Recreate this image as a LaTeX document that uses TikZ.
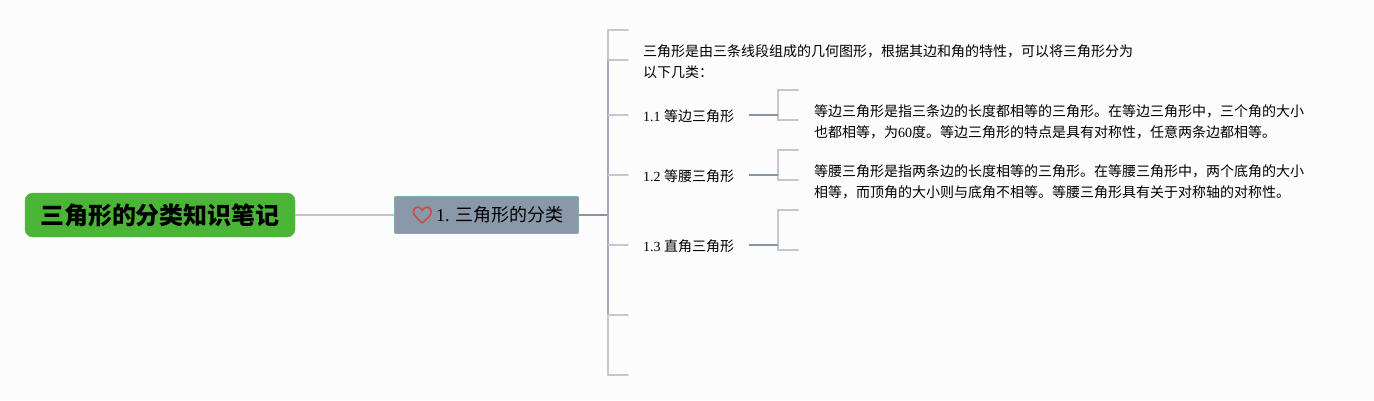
\documentclass[tikz,border=0pt]{standalone}
\usepackage{fontspec}
\usepackage{xcolor}
\setmainfont{Liberation Serif}
\newfontfamily\cjk{Noto Sans CJK SC}
\usetikzlibrary{positioning}
\definecolor{pagebg}{HTML}{FCFCFC}
\definecolor{titlegreen}{HTML}{4BB538}
\definecolor{topicfill}{HTML}{8A99A9}
\definecolor{topicedge}{HTML}{7FB0A4}
\definecolor{linkpale}{HTML}{C0C1D4}
\definecolor{linkdark}{HTML}{8794A8}
\definecolor{linkmid}{HTML}{A3A9BB}
\definecolor{linkgrey}{HTML}{C6C7CD}
\definecolor{heartred}{HTML}{CC4A48}

\begin{document}
\begin{tikzpicture}[
  x=1pt, y=-1pt,
  titlebox/.style={fill=titlegreen, draw=titlegreen, rounded corners=8pt, minimum width=270pt, minimum height=44pt, inner sep=0pt, font=\fontsize{24}{28}\cjk\bfseries},
  topicbox/.style={fill=topicfill, draw=topicedge, line width=0.8pt, rounded corners=1pt, minimum width=184pt, minimum height=37pt, inner sep=0pt, font=\fontsize{18}{22}\selectfont},
  subbox/.style={anchor=west, inner sep=0pt, text width=106pt, align=left, font=\fontsize{14}{21}\selectfont},
  notebox/.style={anchor=west, inner sep=0pt, align=left, font=\fontsize{14}{21}\cjk},
  forkdark/.style={draw=linkdark, line width=1.5pt},
  forkmid/.style={draw=linkmid, line width=1.5pt},
  forkgrey/.style={draw=linkgrey, line width=1.5pt, line cap=round}
]
\fill[pagebg] (0,0) rectangle (1374,400);
\useasboundingbox (0,0) rectangle (1374,400);

% Title and topic
\node[titlebox] (title) at (160,215) {\raisebox{-0.7pt}{三角形的分类知识笔记}};
\node[topicbox] (topic) at (486.5,215) {\raisebox{-0.4pt}{\hspace*{26.6pt}\rmfamily 1. {\cjk 三角形的分类}}};
\draw[draw=linkpale, line width=1.5pt] (title.east) -- (topic.west);

% Heart
\draw[heartred, line width=1.6pt, line join=round] (422.3,223) .. controls (417,218) and (413.4,215.5) .. (413.4,211.8) .. controls (413.4,205.8) and (420.3,205.8) .. (422.3,210.3) .. controls (424.3,205.8) and (431.2,205.8) .. (431.2,211.8) .. controls (431.2,215.5) and (427.6,218) .. (422.3,223);

% Trunk
\coordinate (hub) at (608,215);
\draw[forkdark] (topic.east) -- (hub);
\coordinate (forktop) at (608,30);
\coordinate (forkintro) at (608,60);
\coordinate (forklow) at (608,315);
\coordinate (forkend) at (608,375);
\draw[forkgrey] (forkintro) -- (forktop);
\draw[forkmid] (forkintro) -- (forklow);
\draw[forkgrey] (forklow) -- (forkend);

% Stubs off the trunk
\foreach \nm/\yy in {top/30, intro/60, one/115, two/175, three/245, low/315, end/375} {
  \coordinate (fork\nm) at (608,\yy);
  \coordinate (stub\nm) at (628,\yy);
  \draw[forkgrey] (fork\nm) -- (stub\nm);
}

% Intro text
\node[notebox] (intro) at (643,61.7) {三角形是由三条线段组成的几何图形，根据其边和角的特性，可以将三角形分为\\以下几类：};

% Sub topics
\node[subbox] (subone) at (643,116) {1.1\hspace{3.5pt}{\cjk 等边三角形}};
\node[subbox] (subtwo) at (643,176) {1.2\hspace{3.5pt}{\cjk 等腰三角形}};
\node[subbox] (subthree) at (643,246) {1.3\hspace{3.5pt}{\cjk 直角三角形}};

% Sub brackets
\foreach \nm/\yy/\ya/\yb in {one/115/90/120, two/175/150/180, three/245/210/250} {
  \coordinate (bend\nm) at (778,\yy);
  \coordinate (upper\nm) at (778,\ya);
  \coordinate (lower\nm) at (778,\yb);
  \coordinate (upperend\nm) at (798,\ya);
  \coordinate (lowerend\nm) at (798,\yb);
  \draw[forkgrey] (upperend\nm) -- (upper\nm) -- (lower\nm) -- (lowerend\nm);
  \draw[forkdark] (sub\nm.east |- bend\nm) -- (bend\nm);
}

% Notes
\node[notebox] (noteone) at (814,121.5) {等边三角形是指三条边的长度都相等的三角形。在等边三角形中，三个角的大小\\也都相等，为{\rmfamily 60}度。等边三角形的特点是具有对称性，任意两条边都相等。};
\node[notebox] (notetwo) at (814,181.5) {等腰三角形是指两条边的长度相等的三角形。在等腰三角形中，两个底角的大小\\相等，而顶角的大小则与底角不相等。等腰三角形具有关于对称轴的对称性。};

\end{tikzpicture}
\end{document}
